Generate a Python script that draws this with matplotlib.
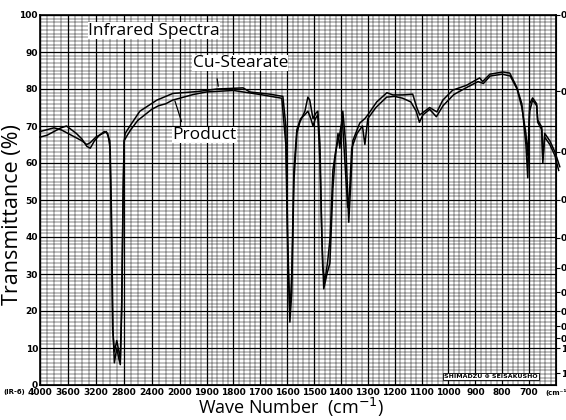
import numpy as np
import matplotlib
matplotlib.use("Agg")
import matplotlib.pyplot as plt
from matplotlib.ticker import FixedLocator

# Data (wavenumber in cm-1, transmittance in %)
cu_wn = [4000, 3900, 3800, 3700, 3620, 3550, 3480, 3400, 3330, 3280, 3220, 3150, 3080,
         3030, 2995, 2975, 2955, 2935, 2900, 2870, 2850, 2830, 2810, 2795, 2780, 2712,
         2570, 2326, 2097, 1935, 1861, 1764, 1739, 1664, 1616, 1605, 1598, 1590, 1583,
         1575, 1564, 1553, 1534, 1523, 1516, 1504, 1493, 1486, 1478, 1471, 1464, 1452,
         1441, 1430, 1422, 1411, 1404, 1393, 1382, 1371, 1363, 1356, 1330, 1311, 1300,
         1267, 1229, 1207, 1170, 1133, 1118, 1107, 1070, 1043, 1021, 984, 933, 884, 873,
         846, 798, 772, 746, 727, 712, 705, 698, 687, 672, 668, 653, 649, 642, 623, 604,
         586]
cu_t = [67, 67.5, 68.5, 69.5, 70, 69, 68, 66.5, 64.5, 64, 66, 67.5, 68.5,
        68, 64, 45, 15, 6, 10, 7, 5.5, 20, 50, 66, 68, 70,
        74, 77, 78.8, 79.3, 80, 80.3, 79.2, 78.6, 78, 70, 40, 17, 25,
        55, 68, 71, 74, 77.8, 77, 72, 73.5, 74, 65, 40, 26, 30,
        33, 53, 61, 68, 64, 74, 65, 44, 55, 66, 70.8, 72, 73,
        76.5, 79, 78.4, 78.4, 78.6, 75, 73, 75, 73.8, 77, 79.7, 81, 83, 82,
        84, 84.6, 84.3, 80.5, 76, 65, 56, 76, 77.6, 76, 71.6, 69.7, 60, 68, 66, 63,
        59]

pr_wn = [4000, 3900, 3800, 3700, 3600, 3500, 3400, 3330, 3280, 3200, 3100, 3050, 3000,
         2980, 2960, 2935, 2900, 2870, 2850, 2830, 2810, 2795, 2750, 2700, 2600, 2500,
         2400, 2300, 2200, 2100, 2000, 1950, 1900, 1800, 1700, 1620, 1605, 1598, 1590,
         1583, 1575, 1564, 1550, 1535, 1523, 1512, 1504, 1495, 1486, 1478, 1468, 1460,
         1450, 1440, 1430, 1420, 1411, 1404, 1395, 1385, 1375, 1368, 1360, 1340, 1320,
         1311, 1300, 1270, 1230, 1200, 1170, 1140, 1120, 1108, 1095, 1070, 1045, 1020,
         980, 930, 890, 870, 845, 800, 770, 745, 727, 712, 705, 698, 687, 672, 668,
         653, 649, 642, 623, 604, 590]
pr_t = [68.5, 69, 69.5, 69, 68, 67, 66, 65, 65.5, 67, 68, 68.5, 66,
        45, 15, 9, 12, 9, 7, 22, 52, 66, 67.5, 69, 71.5, 73,
        74.5, 75.5, 76, 77, 77.5, 78.5, 79.2, 79.6, 78.5, 77.5, 65, 35, 19,
        30, 58, 69, 72, 73, 74, 72, 70, 72, 73, 60, 32, 28,
        33, 40, 58, 63, 66, 68, 72, 60, 48, 52, 64, 68, 70,
        65, 72, 75, 77.8, 78, 77.5, 76.5, 74, 71, 73, 74.5, 72.5, 75.5,
        78.5, 80.5, 82, 81.5, 83.5, 84, 83.5, 80, 75, 68, 62, 74, 77, 75.5, 71,
        69, 61, 67, 65, 62, 58]

x_labels = [4000, 3600, 3200, 2800, 2400, 2000, 1900, 1800, 1700, 1600, 1500, 1400,
            1300, 1200, 1100, 1000, 900, 800, 700]
y_labels = [0, 10, 20, 30, 40, 50, 60, 70, 80, 90, 100]
abs_vals = [0, 0.1, 0.2, 0.3, 0.4, 0.5, 0.6, 0.7, 0.8, 0.9, 1.0, 1.5]
abs_text = ["0", "0", "0", "0", "0", "0", "0", "0", "0", "0", "1", "1"]

# chart paper: 4000-2000 compressed, 2000-600 expanded
BREAK = 2000
K = 3.85
U0 = (4000 - BREAK) / K


def fwd(w):
    w = np.asarray(w, dtype=float)
    return -np.where(w >= BREAK, (4000 - w) / K, U0 + (BREAK - w))


def inv(u):
    u = -np.asarray(u, dtype=float)
    return np.where(u <= U0, 4000 - K * u, BREAK - (u - U0))


tick_font = ['Liberation Sans Narrow', 'DejaVu Sans']
label_font = ['Open Sans', 'DejaVu Sans']

fig = plt.figure(figsize=(5.66, 4.2), dpi=100)
ax = fig.add_axes([40 / 566, 35 / 420, 516 / 566, 370 / 420])
ax.set_xscale('function', functions=(fwd, inv))
ax.set_xlim(4000, 600)
ax.set_ylim(0, 100)

# grid of the chart paper
ax.xaxis.set_major_locator(FixedLocator(x_labels))
minor_x = list(np.arange(4000, 2000, -100)) + list(np.arange(2000, 590, -20))
ax.xaxis.set_minor_locator(FixedLocator(minor_x))
ax.yaxis.set_major_locator(FixedLocator(y_labels))
ax.yaxis.set_minor_locator(FixedLocator(np.arange(0, 101, 1)))
ax.grid(which='major', color='black', lw=0.9)
ax.grid(which='minor', color='black', lw=0.35)
ax.set_axisbelow(True)

ax.plot(cu_wn, cu_t, color='black', lw=1.1, clip_on=False, zorder=3)
ax.plot(pr_wn, pr_t, color='black', lw=1.1, clip_on=False, zorder=3)

ax.set_xticklabels([str(v) for v in x_labels], family=tick_font, fontsize=6.5,
                   fontweight='bold')
ax.set_yticklabels([str(v) for v in y_labels], family=tick_font, fontsize=6.5,
                   fontweight='bold')
ax.tick_params(which='both', length=0, pad=1.5)
ax.tick_params(axis='x', pad=2)
for s in ax.spines.values():
    s.set_linewidth(1.2)

# absorbance scale on the right
ax2 = ax.twinx()
ax2.set_ylim(0, 100)
ax2.set_yticks([100 * 10 ** (-a) for a in abs_vals])
ax2.set_yticklabels(abs_text, family=tick_font, fontsize=6.5, fontweight='bold')
ax2.tick_params(length=3, width=0.8, pad=0.5)

box = dict(facecolor='white', edgecolor='none', pad=0.3)
ax.text(0.093, 0.958, 'Infrared Spectra', transform=ax.transAxes, fontsize=12.5,
        family=label_font, bbox=box, zorder=5, va='center')
ax.text(0.296, 0.87, 'Cu-Stearate', transform=ax.transAxes, fontsize=12.5,
        family=label_font, bbox=box, zorder=5, va='center')
ax.text(0.256, 0.676, 'Product', transform=ax.transAxes, fontsize=12.5,
        family=label_font, bbox=box, zorder=5, va='center')
ax.annotate('', xy=(1855, 80), xytext=(1862, 83.5),
            arrowprops=dict(arrowstyle='-', lw=0.9, color='black'))
ax.annotate('', xy=(2080, 77.5), xytext=(1990, 70.5),
            arrowprops=dict(arrowstyle='-', lw=0.9, color='black'))

ax.text(0.965, 0.018, 'SHIMADZU \u2295 SEISAKUSHO', transform=ax.transAxes,
        fontsize=4.5, ha='right', family=tick_font, fontweight='bold',
        bbox=dict(facecolor='white', edgecolor='black', lw=0.6, pad=0.8), zorder=5)

fig.text(3 / 566, 1 - 392 / 420, '(IR-6)', fontsize=5, family=tick_font,
         fontweight='bold', va='center')
fig.text(545 / 566, 1 - 392 / 420, '(cm\u207b\u00b9', fontsize=5, family=tick_font,
         fontweight='bold', va='center')

ax.set_xlabel('Wave Number  (cm$^{-1}$)', fontsize=13, family=label_font,
              va='center')
ax.xaxis.set_label_coords(0.486, -0.061)
ax.set_ylabel('Transmittance (%)', fontsize=15.5, family=label_font, va='center')
ax.yaxis.set_label_coords(-0.054, 0.46)

fig.savefig('out.png', dpi=100)
